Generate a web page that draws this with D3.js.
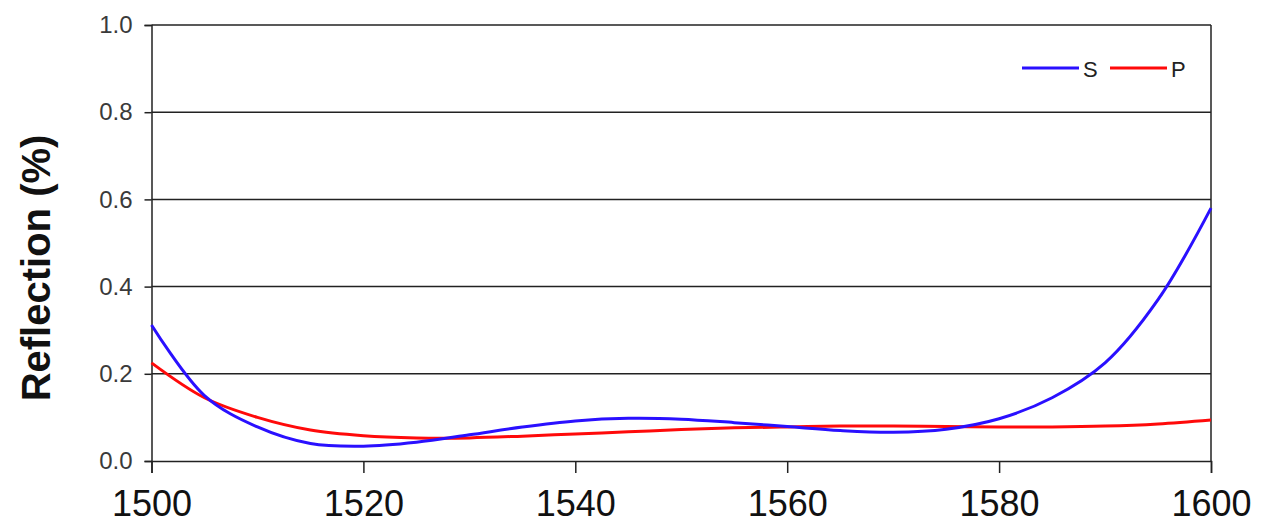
<!DOCTYPE html>
<html><head><meta charset="utf-8">
<script src="https://cdn.jsdelivr.net/npm/d3@7"></script>
<style>html,body{margin:0;padding:0;background:#fff;}svg{display:block;}</style>
</head><body>
<svg id="chart" width="1273" height="527"></svg>
<script>
const wavelengths = [1500,1505,1510,1515,1520,1525,1530,1535,1540,1545,1550,1555,1560,1565,1570,1575,1580,1585,1590,1595,1600];
const sValues = [0.312,0.150,0.078,0.040,0.034,0.043,0.060,0.078,0.092,0.098,0.096,0.088,0.079,0.070,0.066,0.073,0.097,0.145,0.225,0.37,0.58];
const pValues = [0.225,0.145,0.100,0.071,0.058,0.053,0.053,0.057,0.062,0.067,0.072,0.076,0.078,0.080,0.080,0.079,0.078,0.078,0.080,0.085,0.094];
const xTicks = [1500,1520,1540,1560,1580,1600];
const yTicks = [0.0,0.2,0.4,0.6,0.8,1.0];
const seriesNames = ["S","P"];
const seriesColors = ["#2a10ff","#ff0a0a"];

const FONT = "Liberation Sans, Arial, sans-serif";
const svg = d3.select("#chart");
const L = 151.5, R = 1211, T = 25, B = 461;
const x = d3.scaleLinear().domain([1500,1600]).range([L,R]);
const y = d3.scaleLinear().domain([0,1]).range([B,T]);

// gridlines
svg.append("g").selectAll("line").data(yTicks.filter(d=>d>0)).join("line")
  .attr("x1",L).attr("x2",R).attr("y1",d=>y(d)).attr("y2",d=>y(d))
  .attr("stroke","#222").attr("stroke-width",1.5);
// right border
svg.append("line").attr("x1",R).attr("x2",R).attr("y1",T).attr("y2",B)
  .attr("stroke","#222").attr("stroke-width",1.5);

// y axis
const yAxis = svg.append("g").attr("transform",`translate(${L},0)`)
  .call(d3.axisLeft(y).tickValues(yTicks).tickFormat(d3.format(".1f")).tickSize(7).tickPadding(12));
yAxis.attr("font-size",null).attr("font-family",null);
yAxis.select(".domain").attr("stroke","#222").attr("stroke-width",1.5);
yAxis.selectAll(".tick line").attr("stroke","#222").attr("stroke-width",1.5);
yAxis.selectAll("text").style("font-family",FONT).style("font-size","24px").attr("fill","#3a3a3a");

// x axis
const xAxis = svg.append("g").attr("transform",`translate(0,${B})`)
  .call(d3.axisBottom(x).tickValues(xTicks).tickFormat(d3.format("d")).tickSize(12).tickPadding(17));
xAxis.attr("font-size",null).attr("font-family",null);
xAxis.select(".domain").attr("stroke","#222").attr("stroke-width",1.5);
xAxis.selectAll(".tick line").attr("stroke","#222").attr("stroke-width",1.5);
xAxis.selectAll("text").style("font-family",FONT).style("font-size","36px").attr("fill","#111");

// y title
svg.append("text").attr("transform","translate(50,268) rotate(-90)")
  .attr("text-anchor","middle").style("font-family",FONT)
  .attr("font-weight","bold").style("font-size","40px").attr("fill","#111").text("Reflection (%)");

// lines
const line = d3.line().x((d,i)=>x(wavelengths[i])).y(d=>y(d)).curve(d3.curveCatmullRom.alpha(0.5));
[1,0].forEach(idx=>{
  const vals = idx===0 ? sValues : pValues;
  svg.append("path").datum(vals).attr("d",line).attr("fill","none")
    .attr("stroke",seriesColors[idx]).attr("stroke-width",3);
});

// legend
const legX = [1022,1110];
seriesNames.forEach((n,i)=>{
  svg.append("line").attr("x1",legX[i]).attr("x2",legX[i]+57).attr("y1",68).attr("y2",68)
    .attr("stroke",seriesColors[i]).attr("stroke-width",3);
  svg.append("text").attr("x",legX[i]+61).attr("y",77).style("font-family",FONT)
    .style("font-size","22px").attr("fill","#222").text(n);
});
</script>
</body></html>
